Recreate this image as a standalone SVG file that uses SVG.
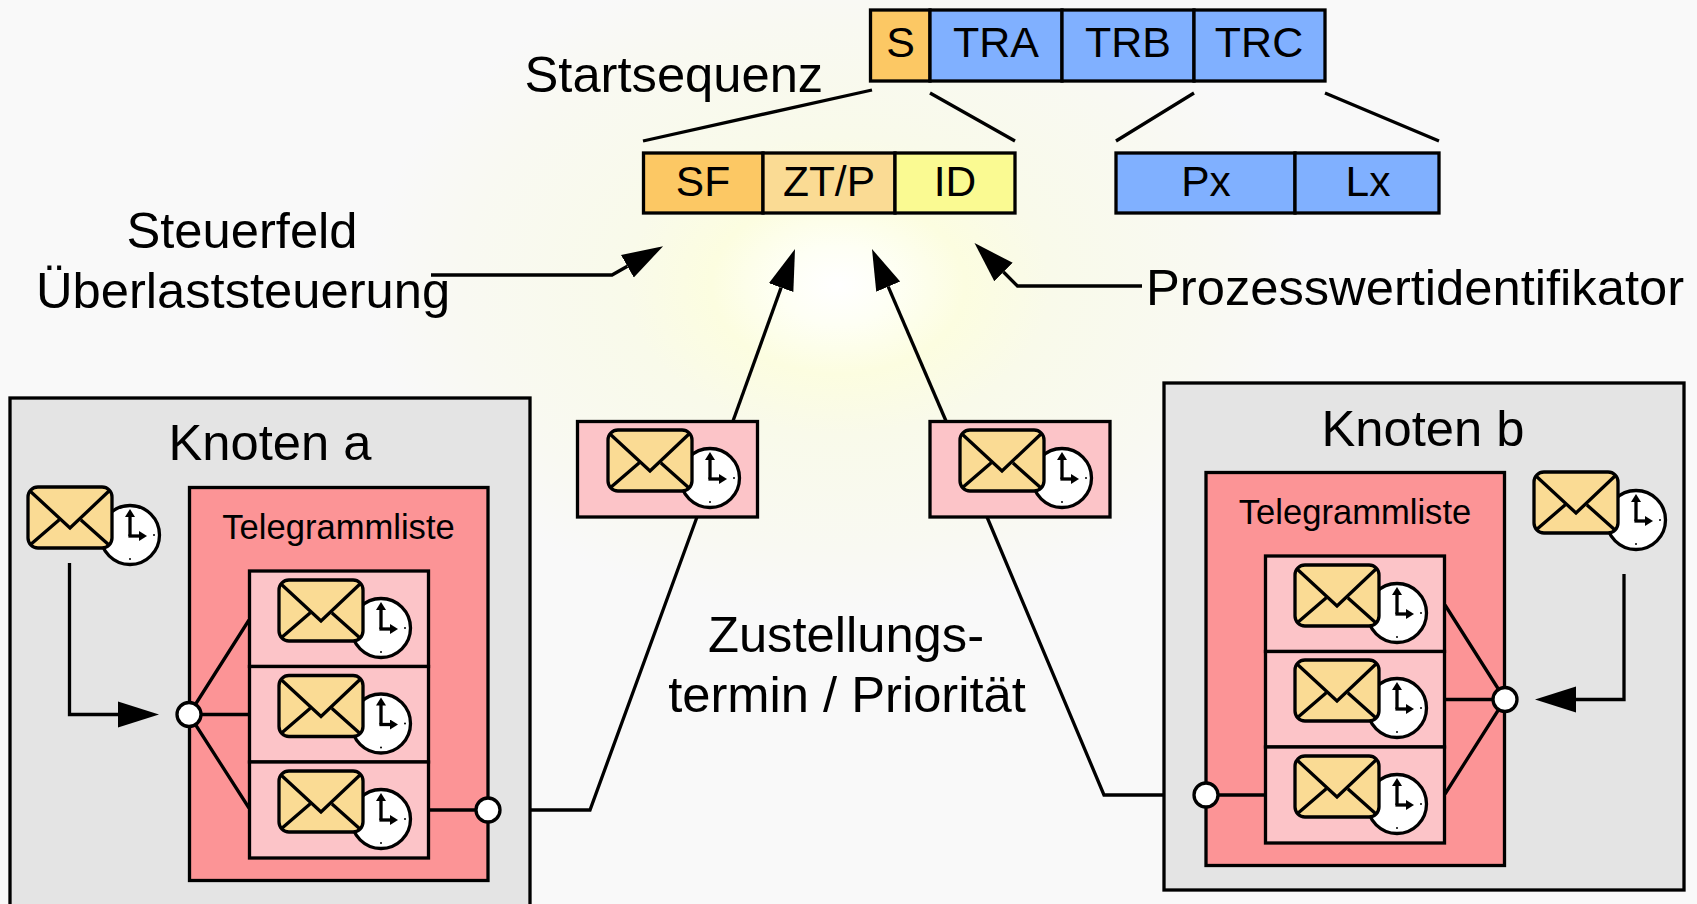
<svg xmlns="http://www.w3.org/2000/svg" width="1697" height="904" viewBox="0 0 1697 904">
<style>
text{font-family:"Liberation Sans",Arial,sans-serif;fill:#000}
.big{font-size:50.700px}
.mid{font-size:34.600px}
.fld{font-size:43px;text-anchor:middle}
.low{font-size:42.500px;text-anchor:middle}
.c{text-anchor:middle}
.box{stroke:#000;stroke-width:3.300}
.ln{fill:none;stroke:#000;stroke-width:3.300}
.pt{fill:#fff;stroke:#000;stroke-width:3.300}
.o{fill:#fcc864}.l{fill:#fadb94}.y{fill:#fafa92}.b{fill:#80b0ff}.g{fill:#e4e4e4}.r{fill:#fc9496}.p{fill:#fcc4c8}
</style>
<defs>
<radialGradient id="glow" gradientUnits="userSpaceOnUse" cx="0" cy="0" r="1" gradientTransform="translate(838 285) scale(470 330)">
<stop offset="0" stop-color="#ffffff"/>
<stop offset="0.12" stop-color="#fefff4"/>
<stop offset="0.27" stop-color="#fcfde0"/>
<stop offset="0.45" stop-color="#f9faea"/>
<stop offset="0.8" stop-color="#f9f9f2"/>
<stop offset="1" stop-color="#f9f9f9"/>
</radialGradient>
<marker id="head" markerUnits="userSpaceOnUse" markerWidth="42" markerHeight="28" refX="0" refY="14" orient="auto"><path d="M0 1L41 14L0 27Z" fill="#000"/></marker>
<marker id="tiny" markerUnits="userSpaceOnUse" markerWidth="9" markerHeight="10" refX="1" refY="5" orient="auto"><path d="M0 0L8 5L0 10Z" fill="#000"/></marker>
<g id="msg">
<circle cx="102" cy="48" r="29.500" class="pt"/>
<path d="M102 49V29" class="ln" marker-end="url(#tiny)"/>
<path d="M100.400 49H112" class="ln" marker-end="url(#tiny)"/>
<circle cx="126" cy="48" r="1" fill="#000"/>
<circle cx="102" cy="72" r="1" fill="#000"/>
<rect x="0" y="0" width="84" height="61" rx="10" class="box l"/>
<path d="M2 4L42 41L81 4M31 33L2 58M53 33L81 58" class="ln"/>
</g>
</defs>
<rect width="1697" height="904" fill="#f9f9f9"/>
<rect x="368" y="0" width="940" height="615" fill="url(#glow)"/>

<g id="knoten-a">
<rect x="10" y="398" width="520" height="530" class="box g"/>
<text x="270" y="460" class="big c">Knoten a</text>
<rect x="189.500" y="487.500" width="298.500" height="393" class="box r"/>
<text x="338.500" y="539" class="mid c">Telegrammliste</text>
</g>
<g id="knoten-b">
<rect x="1164" y="383" width="520" height="507" class="box g"/>
<text x="1423" y="446" class="big c">Knoten b</text>
<rect x="1206" y="472.500" width="298.500" height="393" class="box r"/>
<text x="1355" y="524" class="mid c">Telegrammliste</text>
</g>

<g id="connectors">
<path d="M872 90L643 141M930 93L1015 141M1194 93L1116 141M1325 93L1439 141" class="ln"/>
<path d="M431 275H612L627.400 266.300" class="ln" marker-end="url(#head)"/>
<path d="M1142 286H1017.500L1003.500 272" class="ln" marker-end="url(#head)"/>
<path d="M733 421L781.100 287.600" class="ln" marker-end="url(#head)"/>
<path d="M946 421L888.200 286.700" class="ln" marker-end="url(#head)"/>
<path d="M530 810H590L697 517" class="ln"/>
<path d="M1164 795H1104L987 517" class="ln"/>
<path d="M69.500 563V714.500H118" class="ln" marker-end="url(#head)"/>
<path d="M1624 574V699.500H1576" class="ln" marker-end="url(#head)"/>
<path d="M189 714.500L249 620M189 714.500H249M189 714.500L249 808M429 810H488" class="ln"/>
<path d="M1505 699.500L1445 605M1505 699.500H1445M1505 699.500L1445 794M1206 795H1265" class="ln"/>
</g>

<g id="frame-top">
<rect x="870.500" y="10" width="59.500" height="71" class="box o"/>
<text x="900.500" y="57" class="fld">S</text>
<rect x="930" y="10" width="132" height="71" class="box b"/>
<text x="996" y="57" class="fld">TRA</text>
<rect x="1062" y="10" width="132" height="71" class="box b"/>
<text x="1128" y="57" class="fld">TRB</text>
<rect x="1194" y="10" width="131" height="71" class="box b"/>
<text x="1259" y="57" class="fld">TRC</text>
</g>
<g id="frame-start">
<rect x="643.500" y="153" width="119.500" height="60" class="box o"/>
<text x="703" y="196" class="low">SF</text>
<rect x="763" y="153" width="132" height="60" class="box l"/>
<text x="829" y="196" class="low">ZT/P</text>
<rect x="895" y="153" width="120" height="60" class="box y"/>
<text x="955" y="196" class="low">ID</text>
</g>
<g id="frame-tr">
<rect x="1116" y="153" width="179" height="60" class="box b"/>
<text x="1206" y="196" class="low">Px</text>
<rect x="1295" y="153" width="144" height="60" class="box b"/>
<text x="1368" y="196" class="low">Lx</text>
</g>

<g id="label-start"><text x="524.500" y="92" class="big">Startsequenz</text></g>
<g id="label-steuer"><text x="242" y="248" class="big c">Steuerfeld</text><text x="243" y="308" class="big c">Überlaststeuerung</text></g>
<g id="label-proz"><text x="1146" y="305" class="big">Prozesswertidentifikator</text></g>
<g id="label-term"><text x="846" y="652" class="big c">Zustellungs-</text><text x="847" y="712" class="big c">termin / Priorität</text></g>

<g id="msg-center-a"><rect x="577.500" y="421.500" width="180" height="95.500" class="box p"/><use href="#msg" x="608" y="430"/></g>
<g id="msg-center-b"><rect x="930" y="421.500" width="180" height="95.500" class="box p"/><use href="#msg" x="960" y="430"/></g>

<g id="list-a">
<rect x="249.500" y="571" width="179" height="95.500" class="box p"/>
<rect x="249.500" y="666.500" width="179" height="95.500" class="box p"/>
<rect x="249.500" y="762" width="179" height="96" class="box p"/>
<use href="#msg" x="279" y="580"/><use href="#msg" x="279" y="675.500"/><use href="#msg" x="279" y="771"/>
</g>
<g id="list-b">
<rect x="1265.500" y="556" width="179" height="95.500" class="box p"/>
<rect x="1265.500" y="651.500" width="179" height="95.500" class="box p"/>
<rect x="1265.500" y="747" width="179" height="96" class="box p"/>
<use href="#msg" x="1295" y="565"/><use href="#msg" x="1295" y="660"/><use href="#msg" x="1295" y="756"/>
</g>
<g id="msg-new-a"><use href="#msg" x="28" y="487"/></g>
<g id="msg-new-b"><use href="#msg" x="1534" y="472"/></g>
<g id="ports">
<circle cx="189" cy="714.500" r="12" class="pt"/>
<circle cx="488" cy="810" r="12" class="pt"/>
<circle cx="1505" cy="699.500" r="12" class="pt"/>
<circle cx="1206" cy="795" r="12" class="pt"/>
</g>
</svg>
